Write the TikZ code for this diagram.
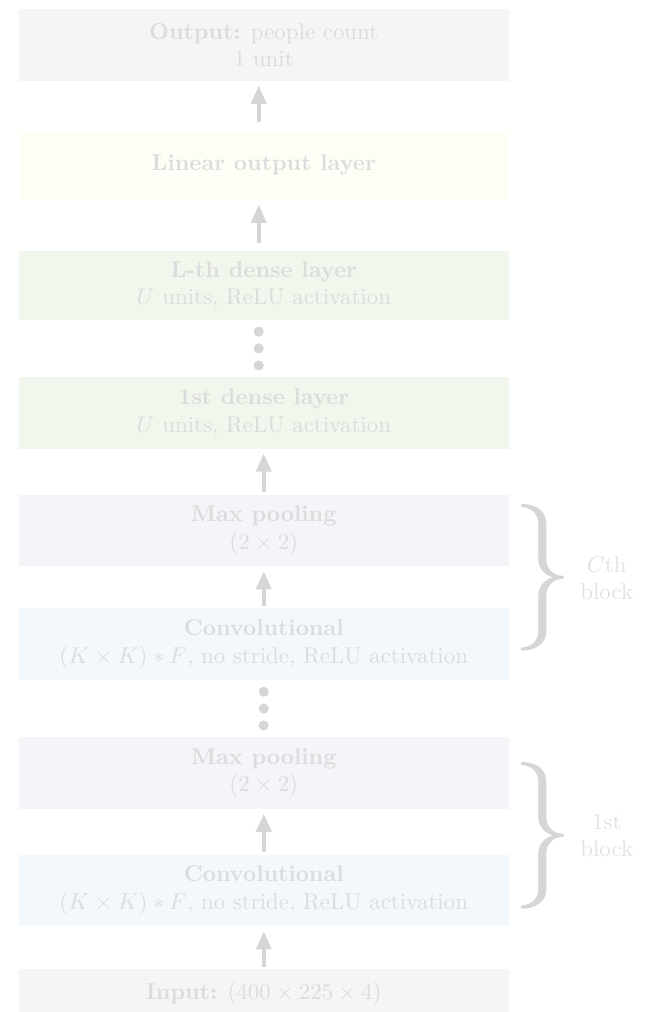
\documentclass[tikz,border=0pt]{standalone}
\usepackage{amsmath,amssymb}
\usepackage{graphicx}
\usepackage{xcolor}
\usepackage{tikz}
\usetikzlibrary{positioning,arrows.meta,calc}

\definecolor{txtgray}{HTML}{DCDCDC}
\definecolor{lblgray}{HTML}{E2E2E2}
\definecolor{arrgray}{HTML}{D6D6D6}
\definecolor{iofill}{HTML}{F5F5F5}
\definecolor{linfill}{HTML}{FEFEF6}
\definecolor{densefill}{HTML}{F1F7EC}
\definecolor{poolfill}{HTML}{F5F4F8}
\definecolor{convfill}{HTML}{F3F8FD}

\tikzset{
  layer/.style ={rectangle, draw=none, fill=iofill, align=center, inner sep=2pt,
                 text=txtgray, minimum width=75.1mm, minimum height=11mm},
  iobox/.style ={layer, fill=iofill},
  linbox/.style={layer, fill=linfill, minimum height=10.6mm},
  dense/.style ={layer, fill=densefill},
  pool/.style  ={layer, fill=poolfill},
  conv/.style  ={layer, fill=convfill},
  arr/.style   ={-{Triangle[length=2.8mm, width=2.3mm]}, line width=1.7pt, draw=arrgray,
                 shorten >=0.65mm, shorten <=0.3mm},
  dot/.style   ={circle, fill=arrgray, draw=none, inner sep=0pt, minimum size=1.55mm},
  blkbrace/.style={anchor=west, inner sep=0pt, text=arrgray},
  blklbl/.style={align=center, text=lblgray, inner sep=2pt},
}

\begin{document}
\begin{tikzpicture}
  \useasboundingbox (-40.45mm,6.9mm) rectangle (58.95mm,-148.3mm);

  % output side
  \node[iobox] (out) at (0,0) {\textbf{Output:} people count\\1 unit};
  \node[linbox, below=7.5mm of out] (lin) {\textbf{Linear output layer}};
  \node[dense, below=7.7mm of lin, minimum height=10.6mm] (denseL)
       {\textbf{L-th dense layer}\\$U$ units, ReLU activation};
  \node[dense, below=8.6mm of denseL] (dense1)
       {\textbf{1st dense layer}\\$U$ units, ReLU activation};

  % C-th block
  \node[pool, below=6.9mm of dense1] (poolC) {\textbf{Max pooling}\\$(2\times 2)$};
  \node[conv, below=6.3mm of poolC] (convC)
       {\textbf{Convolutional}\\$(K\times K)*F$, no stride, ReLU activation};

  % 1st block
  \node[pool, below=8.6mm of convC] (pool1) {\textbf{Max pooling}\\$(2\times 2)$};
  \node[conv, below=6.9mm of pool1] (conv1)
       {\textbf{Convolutional}\\$(K\times K)*F$, no stride, ReLU activation};

  % input
  \node[iobox, below=6.4mm of conv1, minimum height=7.7mm] (inp)
       {\textbf{Input:} $(400\times 225\times 4)$};

  % skipped layers
  \node[dot, xshift=-0.77mm] (dotsA) at ($(denseL.south)!0.5!(dense1.north)$) {};
  \node[dot, above=0.9mm of dotsA] (dotsAt) {};
  \node[dot, below=0.9mm of dotsA] (dotsAb) {};
  \node[dot] (dotsB) at ($(convC.south)!0.5!(pool1.north)$) {};
  \node[dot, above=0.9mm of dotsB] (dotsBt) {};
  \node[dot, below=0.9mm of dotsB] (dotsBb) {};

  % arrows
  \draw[arr, shorten <=1.2mm] ([xshift=-0.77mm]lin.north) -- ([xshift=-0.77mm]out.south);
  \draw[arr, shorten <=1.1mm] ([xshift=-0.77mm]denseL.north) -- ([xshift=-0.77mm]lin.south);
  \draw[arr] (poolC.north) -- (dense1.south);
  \draw[arr] (convC.north) -- (poolC.south);
  \draw[arr] (conv1.north) -- (pool1.south);
  \draw[arr] (inp.north) -- (conv1.south);

  % block braces
  \node[blkbrace] (brC) at ($([xshift=0.5mm, yshift=-1.6mm]poolC.north east)!0.5!([xshift=0.5mm, yshift=4.4mm]convC.south east)$)
       {\scalebox{5.3}[6.4]{$\}$}};
  \node[blklbl, right=0.2mm of brC] (lblC) {$C$th\\block};
  \node[blkbrace] (br1) at ($([xshift=0.5mm, yshift=-4.1mm]pool1.north east)!0.5!([xshift=0.5mm, yshift=3.0mm]conv1.south east)$)
       {\scalebox{5.3}[6.4]{$\}$}};
  \node[blklbl, right=0.2mm of br1] (lbl1) {1st\\block};
\end{tikzpicture}
\end{document}
